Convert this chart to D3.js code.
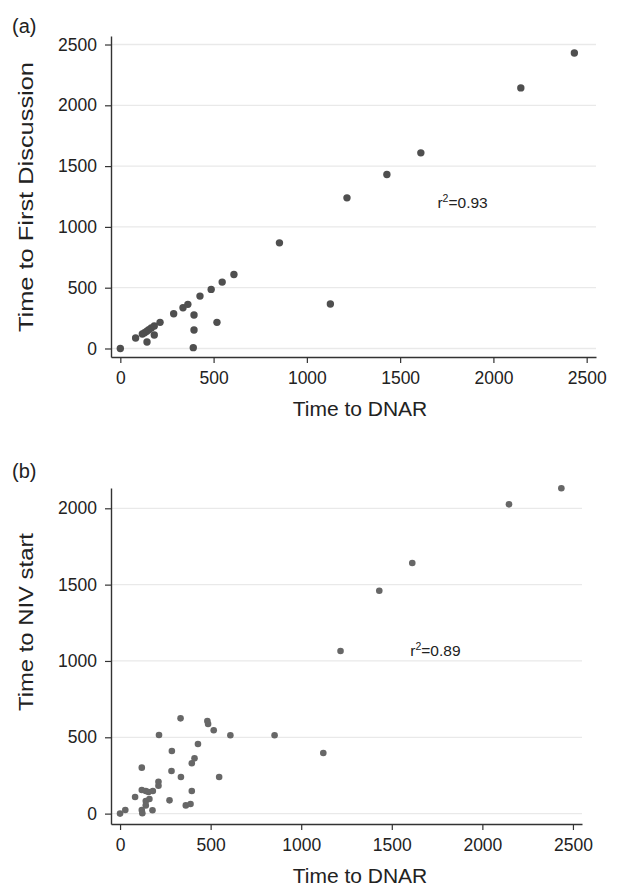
<!DOCTYPE html>
<html lang="en">
<head>
  <meta charset="UTF-8">
  <title>Time to DNAR</title>
  <style>
    body { margin: 0; background: #fff; }
    svg { display: block; font-family: "Liberation Sans", Arial, Helvetica, sans-serif; }
  </style>
</head>
<body>
  <script src="https://cdn.jsdelivr.net/npm/d3@7"></script>
  <script>
    // tick values
    let ticksX = [0, 500, 1000, 1500, 2000, 2500];
    let ticksYA = [0, 500, 1000, 1500, 2000, 2500];
    let ticksYB = [0, 500, 1000, 1500, 2000];

    // panel (a): time to DNAR vs time to first discussion
    let dnarA = [0, 82, 143, 118, 130, 142, 153, 166, 182, 182, 213, 286, 336, 362, 395,
      395, 391, 427, 487, 518, 546, 609, 853, 1126, 1215, 1429, 1611, 2147, 2434];
    let discussion = [0, 86, 53, 119, 130, 142, 155, 168, 185, 111, 215, 286, 335, 363, 275,
      152, 7, 431, 486, 215, 546, 609, 869, 366, 1239, 1431, 1609, 2143, 2430];

    // panel (b): time to DNAR vs time to NIV start
    let dnarB = [0, 29, 83, 120, 120, 142, 157, 181, 142, 162, 142, 120, 123, 179, 212,
      212, 215, 273, 284, 286, 334, 336, 363, 389, 396, 396, 411, 430, 482, 486,
      517, 547, 609, 853, 1122, 1217, 1431, 1613, 2147, 2436];
    let niv = [0, 24, 109, 301, 155, 148, 142, 148, 83, 96, 54, 24, 2, 22, 209,
      183, 515, 87, 279, 410, 624, 240, 54, 63, 148, 330, 362, 456, 607, 587,
      546, 240, 513, 513, 397, 1065, 1460, 1642, 2026, 2131];

    let width = 617,
      height = 887;

    let svg = d3.select("body")
      .append("svg")
      .attr("width", width)
      .attr("height", height);

    function panel(opt) {
      let x = d3.scaleLinear().domain([-50, 2550]).range([111, opt.right]);
      let y = d3.scaleLinear().domain(opt.yDomain).range([opt.bottom, opt.top]);
      let g = svg.append("g");

      // gridlines
      g.selectAll("line.grid")
        .data(opt.yTicks)
        .enter()
        .append("line")
        .attr("class", "grid")
        .attr("x1", 111)
        .attr("x2", opt.right)
        .attr("y1", d => y(d))
        .attr("y2", d => y(d))
        .attr("stroke", "#e9e9e9")
        .attr("stroke-width", 1.3);

      let fmt = d3.format("d");
      let xAxis = g.append("g")
        .attr("transform", "translate(0," + opt.bottom + ")")
        .call(d3.axisBottom(x).tickValues(ticksX).tickFormat(fmt).tickSize(6).tickSizeOuter(0).tickPadding(9));
      let yAxis = g.append("g")
        .attr("transform", "translate(111,0)")
        .call(d3.axisLeft(y).tickValues(opt.yTicks).tickFormat(fmt).tickSize(6).tickSizeOuter(0).tickPadding(8));

      [xAxis, yAxis].forEach(a => {
        a.select(".domain").attr("stroke", "#333").attr("stroke-width", 1.4);
        a.selectAll(".tick line").attr("stroke", "#333").attr("stroke-width", 1.2);
        a.selectAll(".tick text")
          .attr("fill", "#222")
          .style("font-size", "17.5px")
          .style("font-family", "'Liberation Sans', Arial, sans-serif");
      });

      // points
      g.selectAll("circle")
        .data(opt.xs.map((d, i) => [d, opt.ys[i]]))
        .enter()
        .append("circle")
        .attr("cx", d => x(d[0]))
        .attr("cy", d => y(d[1]))
        .attr("r", opt.r)
        .attr("fill", opt.color);

      // axis titles
      g.append("text")
        .attr("x", 360)
        .attr("y", opt.bottom + 59)
        .attr("text-anchor", "middle")
        .attr("fill", "#222")
        .style("font-size", "21px")
        .text("Time to DNAR");
      g.append("text")
        .attr("transform", "translate(33," + opt.titleY + ") rotate(-90)")
        .attr("text-anchor", "middle")
        .attr("textLength", opt.titleLen)
        .attr("lengthAdjust", "spacingAndGlyphs")
        .attr("fill", "#222")
        .style("font-size", "21px")
        .text(opt.yTitle);

      // panel letter
      g.append("text")
        .attr("x", 12)
        .attr("y", opt.letterY)
        .attr("fill", "#222")
        .style("font-size", "20px")
        .text(opt.letter);

      // r squared
      let r2 = g.append("text")
        .attr("x", x(opt.r2At[0]))
        .attr("y", y(opt.r2At[1]))
        .attr("fill", "#222")
        .style("font-size", "15.5px");
      r2.append("tspan").text("r");
      r2.append("tspan").attr("dy", -6).style("font-size", "10.5px").text("2");
      r2.append("tspan").attr("dy", 6).text("=" + opt.r2);
    }

    panel({
      letter: "(a)", letterY: 33,
      xs: dnarA, ys: discussion,
      yDomain: [-70, 2570], yTicks: ticksYA,
      top: 36, bottom: 357, right: 596,
      yTitle: "Time to First Discussion", titleY: 197, titleLen: 270,
      r: 3.7, color: "#4f4f4f",
      r2At: [1700, 1157], r2: "0.93"
    });

    panel({
      letter: "(b)", letterY: 478,
      xs: dnarB, ys: niv,
      yDomain: [-68, 2133], yTicks: ticksYB,
      top: 488, bottom: 824, right: 582,
      yTitle: "Time to NIV start", titleY: 622, titleLen: 178,
      r: 3.3, color: "#676767",
      r2At: [1602, 1034], r2: "0.89"
    });
  </script>
</body>
</html>
